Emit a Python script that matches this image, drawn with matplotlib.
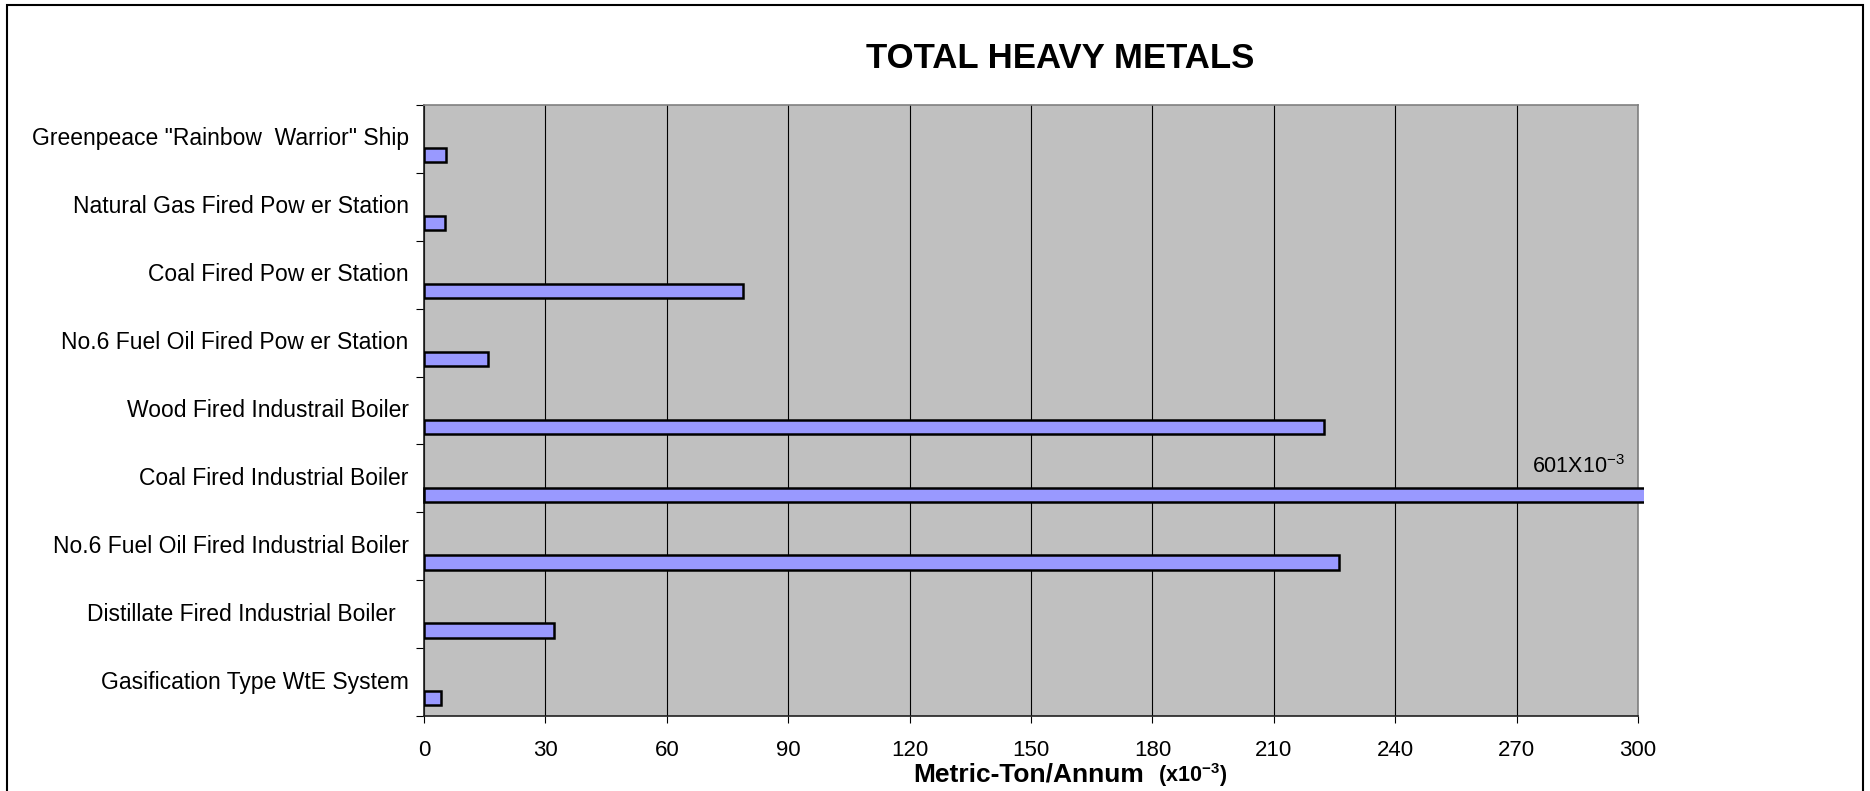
import numpy as np
import matplotlib
matplotlib.use("Agg")
import matplotlib.pyplot as plt
from matplotlib.patches import Rectangle
from matplotlib.transforms import Bbox, TransformedBbox

plt.rcParams['font.family'] = ['Liberation Sans', 'DejaVu Sans']
plt.rcParams['mathtext.fontset'] = 'custom'
plt.rcParams['mathtext.rm'] = 'Liberation Sans'
plt.rcParams['mathtext.bf'] = 'Liberation Sans:bold'

# data (top to bottom as drawn)
categories = [
    'Greenpeace "Rainbow  Warrior" Ship',
    'Natural Gas Fired Pow er Station',
    'Coal Fired Pow er Station',
    'No.6 Fuel Oil Fired Pow er Station',
    'Wood Fired Industrail Boiler',
    'Coal Fired Industrial Boiler',
    'No.6 Fuel Oil Fired Industrial Boiler',
    'Distillate Fired Industrial Boiler  ',
    'Gasification Type WtE System',
]
values = [5.4, 5.3, 78.8, 15.8, 222.3, 601, 226.0, 32.1, 4.3]
x_ticks = [0, 30, 60, 90, 120, 150, 180, 210, 240, 270, 300]

W, H = 1870, 791
fig = plt.figure(figsize=(W / 100, H / 100), dpi=100)
ax = fig.add_axes([424 / W, 1 - 716 / H, (1638 - 424) / W, (716 - 105) / H])
ax.set_facecolor('#C0C0C0')

y = np.arange(len(categories))
bars = ax.barh(y + 0.24, values, height=0.21, color='#9999FF',
               edgecolor='black', linewidth=1.8, zorder=3)
# the long bar pokes a little past the plot edge, as in the original
big = int(np.argmax(values))
bars[big].set_clip_box(TransformedBbox(Bbox([[-1, -1], [301.5, 10]]), ax.transData))

ax.set_xlim(0, 300)
ax.set_ylim(len(categories) - 0.5, -0.5)
ax.set_xticks(x_ticks)
ax.set_xticklabels([str(t) for t in x_ticks], fontsize=16)
ax.xaxis.grid(True, color='black', linewidth=0.8, zorder=1)
ax.set_axisbelow(True)
ax.tick_params(axis='x', length=5, width=0.8, pad=12, color='black')

# labels at category centres, ticks at category boundaries
ax.set_yticks(y)
ax.set_yticklabels(categories, fontsize=16.5)
ax.tick_params(axis='y', which='major', length=0, pad=11)
ax.set_yticks(np.arange(len(categories) + 1) - 0.5, minor=True)
ax.tick_params(axis='y', which='minor', length=6, width=0.8, color='black')
for lab in ax.get_yticklabels():
    lab.set_va('center')

for side in ['top', 'right']:
    ax.spines[side].set_color('#808080')
    ax.spines[side].set_linewidth(1.2)
for side in ['left', 'bottom']:
    ax.spines[side].set_color('#202020')
    ax.spines[side].set_linewidth(1.2)

ax.text(1532 / W, 1 - 473 / H, '601X10$^{-3}$', transform=fig.transFigure,
        fontsize=15.5, ha='left', va='baseline')

fig.text(1060 / W, 1 - 58 / H, 'TOTAL HEAVY METALS', fontsize=25,
         fontweight='bold', ha='center', va='center')

fig.text(913 / W, 1 - 782 / H, 'Metric-Ton/Annum', fontsize=19,
         fontweight='bold', ha='left', va='baseline')
fig.text(1158 / W, 1 - 782 / H, r'$\mathbf{(x10^{-3})}$', fontsize=15.5,
         ha='left', va='baseline')

# outer frame of the chart
fig.patches.append(Rectangle((7 / W, -0.02), (1863 - 7) / W, 1.02 - 5 / H,
                             transform=fig.transFigure, fill=False,
                             edgecolor='black', linewidth=1.5))

fig.savefig('out.png', dpi=100)
